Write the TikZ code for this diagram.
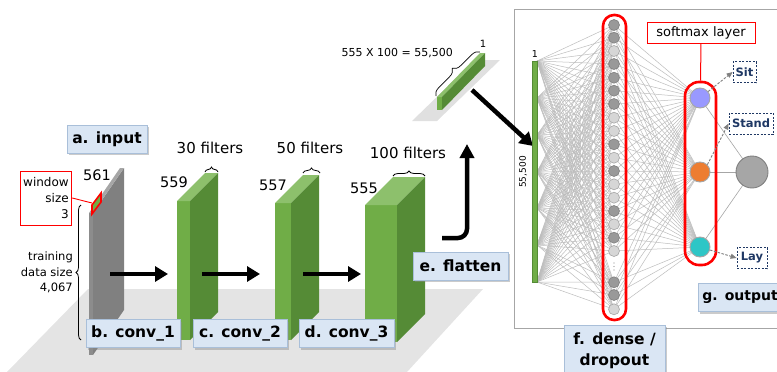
\documentclass[tikz,border=0pt]{standalone}
\usepackage{fontspec}
\setmainfont{DejaVu Sans}
\usetikzlibrary{arrows.meta,decorations.pathreplacing,shadows}

\definecolor{gfront}{HTML}{70AD47}
\definecolor{gside}{HTML}{558B36}
\definecolor{gtop}{HTML}{8DC06C}
\definecolor{lblfill}{HTML}{DAE6F4}
\definecolor{lbldraw}{HTML}{A9BFD9}
\definecolor{navy}{HTML}{1F3864}
\definecolor{floorgray}{HTML}{E4E4E4}
\definecolor{slabside}{HTML}{808080}
\definecolor{slabfront}{HTML}{8C8C8C}
\definecolor{slabtop}{HTML}{A6A6A6}
\definecolor{netline}{HTML}{BDBDBD}
\definecolor{unitdark}{HTML}{999999}
\definecolor{unitpale}{HTML}{D6D6D6}
\definecolor{sitcol}{HTML}{9999FF}
\definecolor{standcol}{HTML}{ED7D31}
\definecolor{laycol}{HTML}{2EC6C6}

% front face x1..x2, y1..y2 (y grows downwards), depth 28 towards the upper right
\newcommand\convblock[4]{%
  \fill[gfront] (#1,#3) rectangle (#2,#4);
  \fill[gtop] (#1,#3) -- (#2,#3) -- (#2+28,#3-28) -- (#1+28,#3-28) -- cycle;
  \fill[gside] (#2,#3) -- (#2+28,#3-28) -- (#2+28,#4-28) -- (#2,#4) -- cycle;
}

\begin{document}
\begin{tikzpicture}[x=1pt,y=-1pt,
  lbl/.style={draw=lbldraw, fill=lblfill, line width=0.8pt,
    font=\fontsize{15.5}{21}\selectfont\bfseries, minimum height=28pt,
    inner xsep=4pt, inner ysep=3pt,
    drop shadow={shadow xshift=2pt, shadow yshift=-2pt, fill=black!45, opacity=0.45}},
  dimtext/.style={font=\fontsize{15}{18}\selectfont, inner sep=0pt},
  numtext/.style={font=\fontsize{14.5}{17}\selectfont, inner sep=0pt},
  bigarrow/.style={line width=4pt, -{Triangle[length=13pt,width=15pt]}},
  fbrace/.style={decorate, decoration={brace, amplitude=5pt}, line width=0.8pt},
  netedge/.style={draw=netline, line width=0.5pt},
  unit/.style={circle, line width=0.6pt, minimum size=11pt, inner sep=0pt},
  uon/.style={unit, fill=unitdark, draw=black!50},
  uoff/.style={unit, fill=unitpale, draw=black!35},
  outnode/.style={circle, draw=black!35, line width=0.9pt, minimum size=20pt, inner sep=0pt},
  classbox/.style={draw=navy, dash pattern=on 2pt off 1.5pt, line width=0.8pt, text=navy,
    font=\fontsize{11.5}{13}\selectfont\bfseries, inner sep=2pt, minimum height=21pt},
  classarrow/.style={draw=black!50, dash pattern=on 2.5pt off 1.5pt, line width=0.9pt,
    -{Triangle[length=6pt,width=5pt]}},
  redbox/.style={draw=red, line width=2.6pt, rounded corners=11pt}
]
\useasboundingbox (0,0) rectangle (777,372);

% ground plane
\fill[floorgray] (88,289) -- (483,289) -- (407,372) -- (7,372) -- cycle;

% input slab
\fill[slabside] (93,213) -- (124,168) -- (124,310) -- (93,355) -- cycle;
\fill[slabfront] (89,213) rectangle (93,355);
\fill[slabtop] (89,213) -- (93,213) -- (124,168) -- (120,168) -- cycle;
\coordinate (win) at (92,203);
\filldraw[fill=gfront, draw=red, line width=1.6pt] (92,214) -- (92,205) -- (101,193) -- (101,202) -- cycle;

% window box
\node[draw=red, line width=0.9pt, align=right, font=\fontsize{12}{16}\selectfont,
  minimum width=50pt, minimum height=54pt, inner xsep=3pt] (wbox) at (46,198)
  {window\\size\\3};
\draw[red, line width=0.9pt] (wbox.east) -- (win);
\node[numtext] (n561) at (97,175) {561};

% training data brace
\draw[fbrace] (81,340) -- coordinate[midway, xshift=-7pt] (tdtip) (81,205);
\node[anchor=east, align=right, font=\fontsize{11.5}{15.5}\selectfont, inner sep=1pt] (tdtext) at (tdtip)
  {training\\data size\\4,067};

% convolution blocks
\convblock{177}{190}{201}{340}
\convblock{275}{291}{203}{340}
\convblock{365}{397}{205}{342}
\node[numtext] (n559) at (174,182) {559};
\node[numtext] (n557) at (273,185) {557};
\node[numtext] (n555) at (364,188) {555};

\draw[fbrace] (205,172) -- coordinate[midway] (b1) (218,172);
\draw[fbrace] (303,173) -- coordinate[midway] (b2) (320,173);
\draw[fbrace] (393,176) -- coordinate[midway] (b3) (425,176);
\node[dimtext] (f30) at (210,148) {30 filters};
\node[dimtext] (f50) at (310,148) {50 filters};
\node[dimtext] (f100) at (408,153) {100 filters};

% arrows between layers
\coordinate (a1s) at (110,274); \coordinate (a1e) at (168,274);
\coordinate (a2s) at (202,274); \coordinate (a2e) at (260,274);
\coordinate (a3s) at (303,274); \coordinate (a3e) at (361,274);
\draw[bigarrow] (a1s) -- (a1e);
\draw[bigarrow] (a2s) -- (a2e);
\draw[bigarrow] (a3s) -- (a3e);

% flatten arrow
\coordinate (fls) at (442,238);
\coordinate (flc) at (467,238);
\coordinate (fle) at (467,144);
\draw[line width=4.5pt, rounded corners=9pt, -{Triangle[length=14pt,width=14pt]}] (fls) -- (flc) -- (fle);

% flattened vector
\fill[black!12] (412,121) -- (437,121) -- (500,60) -- (475,60) -- cycle;
\fill[gfront] (437,97) rectangle (442,110);
\fill[gtop] (437,97) -- (442,97) -- (485,53) -- (480,53) -- cycle;
\fill[gside] (442,97) -- (485,53) -- (485,66) -- (442,110) -- cycle;
\draw[decorate, decoration={brace, amplitude=8pt}, line width=0.7pt]
  (436,96) -- coordinate[midway] (fb) (480,52);
\node[font=\fontsize{11}{13}\selectfont, inner sep=0pt, anchor=east] (flatdim) at (453,53) {555 X 100 = 55,500};
\node[font=\fontsize{10}{12}\selectfont, inner sep=0pt] (one1) at (483,44) {1};

% labels of the left part
\node[lbl, minimum width=80pt] (la) at (107,139) {a. input};
\node[lbl, minimum width=94pt] (lb) at (133,333.5) {b. conv\_1};
\node[lbl, minimum width=94pt] (lc) at (240,333.5) {c. conv\_2};
\node[lbl, minimum width=95pt] (ld) at (346.5,333.5) {d. conv\_3};
\node[lbl, minimum width=95pt] (le) at (460.5,266) {e. flatten};

% network panel
\draw[black!35, line width=1pt, fill=white] (514,9) rectangle (790,328);

\coordinate (arrs) at (472,90);
\coordinate (arre) at (533,146);
\draw[bigarrow, line width=4.5pt] (arrs) -- (arre);

% input vector
\foreach \y [count=\k] in {61,98,135,172,208,245,282}
  \coordinate (i\k) at (537,\y);

% positions of the dense and output units
\foreach \y [count=\i] in {25,37.7,51,64,77.7,90.7,104,117.7,131,144.3,157.7,171,
    184.3,197.7,211,224.3,237.7,251,282.3,295,309.3}
  \coordinate (dc\i) at (614,\y);
\coordinate (oc1) at (700,98);
\coordinate (oc2) at (700,172);
\coordinate (oc3) at (700,247);
\coordinate (bigc) at (752,172);

% connections
\foreach \k in {1,...,7}
  \foreach \i in {1,...,21}
    \draw[netedge] (i\k) -- (dc\i);
\foreach \i in {1,...,21}
  \foreach \o in {1,2,3}
    \draw[netedge] (dc\i) -- (oc\o);
\foreach \o in {1,2,3}
  \draw[netedge, draw=black!35, line width=0.6pt] (oc\o) -- (bigc);

\fill[gfront] (532,61) rectangle (537,282);
\draw[gside, line width=0.4pt] (532,61) rectangle (537,282);
\node[font=\fontsize{9.5}{11}\selectfont, inner sep=0pt] (one2) at (535,54) {1};
\node[font=\fontsize{9}{11}\selectfont, inner sep=0pt, rotate=90] (n55500) at (523,172) {55,500};

% dense layer: active (uon) and dropped (uoff) units
\node[uon]  (d1)  at (dc1)  {};
\node[uon]  (d2)  at (dc2)  {};
\node[uoff] (d3)  at (dc3)  {};
\node[uon]  (d4)  at (dc4)  {};
\node[uon]  (d5)  at (dc5)  {};
\node[uon]  (d6)  at (dc6)  {};
\node[uon]  (d7)  at (dc7)  {};
\node[uoff] (d8)  at (dc8)  {};
\node[uoff] (d9)  at (dc9)  {};
\node[uon]  (d10) at (dc10) {};
\node[uoff] (d11) at (dc11) {};
\node[uon]  (d12) at (dc12) {};
\node[uoff] (d13) at (dc13) {};
\node[uoff] (d14) at (dc14) {};
\node[uon]  (d15) at (dc15) {};
\node[uoff] (d16) at (dc16) {};
\node[uon]  (d17) at (dc17) {};
\node[uoff] (d18) at (dc18) {};
\node[uon]  (d19) at (dc19) {};
\node[uon]  (d20) at (dc20) {};
\node[uoff] (d21) at (dc21) {};
\foreach \yy in {263,266.5,270}
  \fill[black!45] (614,\yy) circle (0.6pt);

% output layer
\node[outnode, fill=sitcol] (o1) at (oc1) {};
\node[outnode, fill=standcol] (o2) at (oc2) {};
\node[outnode, fill=laycol] (o3) at (oc3) {};
\node[circle, fill=black!35, draw=black!50, line width=0.9pt, minimum size=32pt, inner sep=0pt] (big) at (bigc) {};

% highlighted groups
\node[redbox, minimum width=23pt, minimum height=305pt] (dbox) at (614.5,167.5) {};
\node[redbox, rounded corners=14pt, minimum width=31pt, minimum height=183pt] (obox) at (700.5,173.5) {};
\node[draw=red, line width=1pt, font=\fontsize{13}{15}\selectfont, minimum width=108pt, minimum height=21pt, inner sep=1pt] (smx) at (701,32.5) {softmax layer};
\draw[red, line width=1pt] (smx.south) -- (obox.north);

% class labels
\node[classbox, minimum width=23pt] (sit) at (744.5,72) {Sit};
\node[classbox, minimum width=44pt] (stand) at (751,123.5) {Stand};
\node[classbox, minimum width=30pt] (lay) at (752,258) {Lay};
\draw[classarrow] (o1) -- (sit.west);
\draw[classarrow] (o2.north east) -- (stand.west);
\draw[classarrow] (o3) -- (lay.west);

% labels of the network part
\node[lbl, minimum width=101pt, anchor=north, align=center, minimum height=50pt] (lf) at (614.5,325) {f. dense /\\dropout};
\node[lbl, anchor=west, minimum width=92pt, inner xsep=3pt, align=left, text width=84pt,
  font=\fontsize{14}{18}\selectfont\bfseries] (lg) at (698,297.5) {g. output};
\end{tikzpicture}
\end{document}
